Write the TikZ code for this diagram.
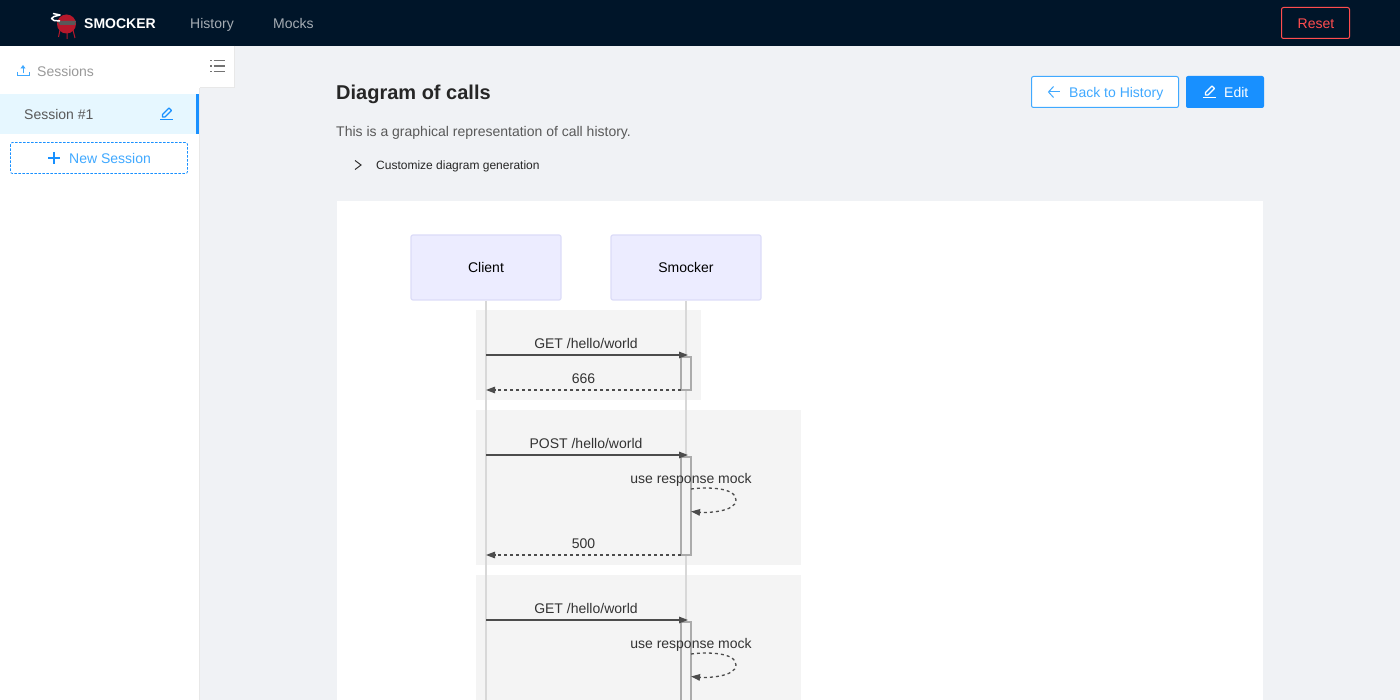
\documentclass[tikz,border=0pt]{standalone}
\usepackage{fontspec}
\setmainfont{Liberation Sans}
\usetikzlibrary{arrows.meta}
\definecolor{navbg}{HTML}{001529}
\definecolor{pagebg}{HTML}{F0F2F5}
\definecolor{antblue}{HTML}{1890FF}
\definecolor{lightblue}{HTML}{40A9FF}
\definecolor{rowblue}{HTML}{E6F7FF}
\definecolor{resetred}{HTML}{FF4D4F}
\definecolor{navtext}{HTML}{A6ADB4}
\definecolor{linegray}{HTML}{E8E8E8}
\definecolor{groupbg}{HTML}{F4F4F4}
\definecolor{lifegray}{HTML}{D8D8D8}
\definecolor{actorbg}{HTML}{ECECFF}
\definecolor{actorline}{HTML}{DCDCF8}
\definecolor{msgtext}{HTML}{333333}
\definecolor{grillred}{HTML}{B5182B}
\tikzset{
	txt/.style={inner sep=0pt, text height=13pt, text depth=2pt, font=\fontsize{14}{16}\selectfont},
	lefttxt/.style={txt, anchor=west},
	actor/.style={txt, draw=actorline, fill=actorbg, rounded corners=2pt, line width=1.2pt, minimum width=150pt, minimum height=65pt, text=black},
	msg/.style={txt, text=msgtext},
	activation/.style={draw=black!33, fill=groupbg, line width=1.2pt, minimum width=10pt, inner sep=0pt},
	lifeline/.style={lifegray, line width=1.6pt},
	callline/.style={draw=black!70, line width=1.4pt, -{Triangle[length=9pt,width=6.5pt]}},
	replyline/.style={draw=black!70, line width=1.3pt, dash pattern=on 3pt off 3pt, -{Triangle[length=9pt,width=6.5pt]}},
	editicon/.pic={
		\draw[line width=1pt] (-6,6)--(6.5,6);
		\draw[line width=1.1pt, line join=round] (-3.5,3.5)--(-3.5,1)--(3,-5.5)--(5.5,-3)--(-1,3.5)--cycle;
	}
}
\begin{document}
\begin{tikzpicture}[x=1pt, y=-1pt]
		\clip (0,0) rectangle (1400,700);
		\fill[pagebg] (0,0) rectangle (1400,46);
		\fill[pagebg] (0,46) rectangle (1400,700);
		
		%top bar
		\fill[navbg] (0,0) rectangle (1400,46);
		\draw[grillred, line width=1pt] (60,30)--(58.5,37) (67,32)--(67,39) (73,30)--(75,38);
		\fill[grillred] (66.5,24) circle (9.5);
		\fill[black!65] (57,21)--(76,21)--(75,25)--(60,25)--cycle;
		\draw[white, line width=1.5pt, line join=round] (53,13.5)--(60,15)--(54,16.5)--(51.5,18.5)--(54,20.5)--(60,21);
		\node[lefttxt, text=white, font=\fontsize{14}{16}\selectfont\bfseries] (logotxt) at (84,23) {SMOCKER};
		\node[lefttxt, text=navtext] (history) at (190,23) {History};
		\node[lefttxt, text=navtext] (mocks) at (273,23) {Mocks};
		\draw[resetred, rounded corners=2pt, line width=1pt] (1281.5,7.5) rectangle (1349.5,38.5);
		\node[lefttxt, text=resetred] (reset) at (1297.5,23) {Reset};
		
		%side menu
		\fill[white] (0,46) rectangle (199,700);
		\draw[linegray, line width=1pt] (199.5,88) -- (199.5,700);
		\fill[white] (199,46) rectangle (235,88);
		\draw[linegray, line width=1pt] (234.5,46) -- (234.5,87.5) -- (199.5,87.5);
		\foreach \y in {60.5, 66, 71.5}{
			\draw[black!55, line width=1.2pt] (213.5,\y)--(224.5,\y);
			\draw[black!55, line width=1.2pt] (210,\y)--(211.5,\y);
		}
		\draw[lightblue, line width=1pt] (17,72)--(17,76)--(29,76)--(29,72);
		\draw[lightblue, line width=1pt, -{Triangle[length=3.5pt,width=5pt]}] (23,73.5)--(23,65);
		\node[lefttxt, text=black!40] (sessions) at (37,71) {Sessions};
		\fill[rowblue] (0,94) rectangle (199,134);
		\fill[antblue] (196,94) rectangle (199,134);
		\node[lefttxt, text=black!65] (session1) at (24,114) {Session \#1};
		\pic[antblue] at (166,113.5) {editicon};
		\draw[antblue, rounded corners=2pt, line width=0.8pt, dash pattern=on 2.5pt off 1.5pt] (10.5,142.5) rectangle (187.5,173.5);
		\draw[antblue, line width=1.8pt] (48,158)--(60,158) (54,152)--(54,164);
		\node[lefttxt, text=lightblue] (newsession) at (69,158) {New Session};
		
		%page header
		\node[lefttxt, text=black!85, font=\fontsize{20}{24}\selectfont\bfseries, text height=18pt, text depth=2pt] (title) at (336,92) {Diagram of calls};
		\draw[lightblue, fill=white, rounded corners=2pt, line width=1pt] (1031.5,76.5) rectangle (1178.5,107.5);
		\draw[lightblue, line width=1pt] (1059.5,92)--(1048.5,92);
		\draw[lightblue, line width=1pt] (1053.5,86.5)--(1048.5,92)--(1053.5,97.5);
		\node[lefttxt, text=lightblue] (back) at (1069,92) {Back to History};
		\fill[antblue, rounded corners=2pt] (1186,76) rectangle (1264,108);
		\pic[white] at (1209,91.5) {editicon};
		\node[lefttxt, text=white] (edit) at (1224,92) {Edit};
		\node[lefttxt, text=black!65] (desc) at (336,131) {This is a graphical representation of call history.};
		\draw[black!80, line width=1pt] (355,160.5)--(361,165)--(355,169.5);
		\node[lefttxt, text=black!85, font=\fontsize{12}{14}\selectfont, text height=12pt, text depth=2pt] (custom) at (376,165) {Customize diagram generation};
		
		%diagram panel
		\fill[white] (337,201) rectangle (1263,700);
		\fill[groupbg] (476,310) rectangle (701,400);
		\fill[groupbg] (476,410) rectangle (801,565);
		\fill[groupbg] (476,575) rectangle (801,700);
		
		%actors and lifelines
		\node[actor] (client) at (486,267.5) {Client};
		\node[actor] (smocker) at (686,267.5) {Smocker};
		\coordinate (clientend) at (486,700);
		\coordinate (smockerend) at (686,700);
		\draw[lifeline] (client) -- (clientend);
		\draw[lifeline] (smocker) -- (smockerend);
		
		%activations
		\node[activation, minimum height=33pt] (act1) at (686,373.5) {};
		\node[activation, minimum height=98pt] (act2) at (686,506) {};
		\node[activation, minimum height=98pt] (act3) at (686,671) {};
		
		%calls
		\foreach \name/\y in {a/355, b/390, c/455, d/555, e/620}{
			\coordinate (client\name) at (486,\y);
			\coordinate (smocker\name) at (688,\y);
			\coordinate (back\name) at (681,\y);
		}
		\draw[callline] (clienta) -- (smockera);
		\draw[replyline] (backb) -- (clientb);
		\draw[callline] (clientc) -- (smockerc);
		\draw[replyline] (backd) -- (clientd);
		\draw[callline] (cliente) -- (smockere);
		
		%self calls
		\foreach \name/\y in {f/489, g/654}{
			\coordinate (loop\name) at (691,\y);
			\coordinate (pool\name) at (691,\y+22.5);
			\draw[replyline] (loop\name) .. controls (706,\y-2) and (736,\y-2) .. (736,\y+11) .. controls (736,\y+23) and (706,\y+24) .. (pool\name);
		}
		
		%labels
		\node[msg] (msg1) at (586,343) {GET /hello/world};
		\node[msg] (msg2) at (583.5,378) {666};
		\node[msg] (msg3) at (586,443) {POST /hello/world};
		\node[msg] (msg4) at (691,478) {use response mock};
		\node[msg] (msg5) at (583.5,543) {500};
		\node[msg] (msg6) at (586,608) {GET /hello/world};
		\node[msg] (msg7) at (691,643) {use response mock};
\end{tikzpicture}
\end{document}
